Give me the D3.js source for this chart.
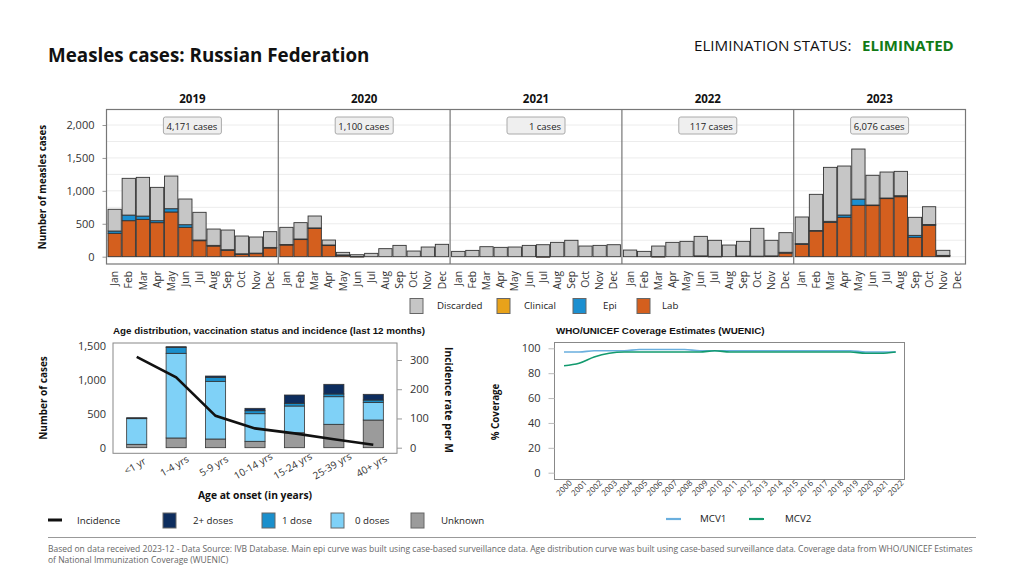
<!DOCTYPE html>
<html>
<head>
<meta charset="utf-8">
<script src="https://cdn.jsdelivr.net/npm/d3@7"></script>
<style>
  html, body { margin: 0; padding: 0; background: #fff; }
  svg { display: block; }
  .pop { font-family: "Open Sans", "Noto Sans", sans-serif; }
  .ari { font-family: "Liberation Sans", Arial, sans-serif; }
</style>
</head>
<body>
<svg id="chart" width="1024" height="576"></svg>
<script>
// ---------------- DATA ----------------
const years = [2019, 2020, 2021, 2022, 2023];
const months = ["Jan","Feb","Mar","Apr","May","Jun","Jul","Aug","Sep","Oct","Nov","Dec"];
// monthly cases per year (Jan..Dec)
const labCases = [
  [355,547,567,517,679,446,243,162,101,41,51,132],
  [178,264,431,173,25,3,0,0,0,0,0,0],
  [0,0,0,0,0,0,1,0,0,0,0,0],
  [0,0,3,0,0,12,5,0,10,8,12,55],
  [188,390,522,598,780,780,886,911,294,477,15,0]
];
const epiCases = [
  [35,85,50,30,50,40,10,10,5,3,3,9],
  [8,5,6,5,2,0,0,0,0,0,0,0],
  [0,0,0,0,0,0,0,0,0,0,0,0],
  [0,0,0,0,0,0,0,0,0,0,0,12],
  [10,8,15,35,95,5,5,15,30,12,5,0]
];
const clinicalCases = [
  [0,0,0,0,0,0,0,0,0,0,0,0],
  [0,0,0,0,0,0,0,0,0,0,0,0],
  [0,0,0,0,0,0,0,0,0,0,0,0],
  [0,0,0,0,0,0,0,0,0,0,0,0],
  [0,0,0,0,0,0,0,0,0,0,0,0]
];
const discardedCases = [
  [330,558,588,506,496,390,421,248,299,270,245,239],
  [260,248,181,75,39,27,51,122,172,86,147,188],
  [81,96,152,142,147,172,181,218,249,162,172,182],
  [101,81,159,218,233,297,244,177,223,423,237,298],
  [405,549,820,744,760,451,395,370,274,270,77,0]
];
const caseTicks = [0, 500, 1000, 1500, 2000];

const ageGroups = ["<1 yr","1-4 yrs","5-9 yrs","10-14 yrs","15-24 yrs","25-39 yrs","40+ yrs"];
const ageUnknown = [50,143,128,94,220,344,407];
const ageDose0 = [377,1245,848,406,393,406,260];
const ageDose1 = [8,88,59,44,40,40,34];
const ageDose2plus = [5,9,19,35,122,142,84];
const incidence = [311,241,109,66,49,29,10];
const ageCaseTicks = [0, 500, 1000, 1500];
const incidenceTicks = [0, 100, 200, 300];

const covYears = d3.range(2000, 2023);
const mcv1 = [97,97,98,98,98,99,99,99,99,98,98,98,98,98,98,98,98,98,98,98,97,97,97];
const mcv2 = [86,88,93,96,97,97,97,97,97,97,98,97,97,97,97,97,97,97,97,97,96,96,97];
const covTicks = [0, 20, 40, 60, 80, 100];

// ---------------- STYLE ----------------
const C = {
  lab: "#d45f1e", epi: "#1b8fd0", clinical: "#e8a21a", discarded: "#c6c6c6",
  d2: "#0d2d5e", d1: "#1a8fcc", d0: "#7fd1f7", unk: "#9b9b9b",
  mcv1: "#6aafde", mcv2: "#129a6e", green: "#117a16"
};

const svg = d3.select("#chart");

// ---------------- HEADER ----------------
svg.append("text").attr("class","pop").attr("x",48).attr("y",62)
  .attr("font-size",18.8).attr("font-weight",700).attr("fill","#111")
  .text("Measles cases: Russian Federation");
svg.append("text").attr("class","pop").attr("x",694).attr("y",51)
  .attr("font-size",15.2).attr("fill","#111").text("ELIMINATION STATUS:");
svg.append("text").attr("class","pop").attr("x",862).attr("y",51)
  .attr("font-size",15).attr("font-weight",700).attr("fill",C.green).text("ELIMINATED");

// ---------------- TOP CHART ----------------
const topBox = {x0: 106.5, x1: 965.5, y0: 109.5, y1: 264};
const xYear = d3.scaleBand().domain(years).range([topBox.x0, topBox.x1]).padding(0);
const xMonth = d3.scaleBand().domain(months).range([1.5, xYear.bandwidth() - 1.5]).paddingInner(0.06);
const yCases = d3.scaleLinear().domain([0, 2000]).range([256.7, 125]);

const gTop = svg.append("g");
// gridlines
gTop.selectAll("line.grid").data(d3.range(0, 2250, 250)).join("line")
  .attr("x1", topBox.x0).attr("x2", topBox.x1)
  .attr("y1", d => yCases(d)).attr("y2", d => yCases(d))
  .attr("stroke", "#ececec").attr("stroke-width", 1);

// y axis
const yAxisTop = d3.axisLeft(yCases).tickValues(caseTicks).tickFormat(d3.format(",")).tickSize(4).tickPadding(8);
const gy = gTop.append("g").attr("transform", `translate(${topBox.x0},0)`).call(yAxisTop);
gy.select(".domain").remove();
gy.selectAll(".tick line").attr("stroke", "#999");
gy.selectAll("text").attr("class","pop").attr("font-size", 11).attr("fill", "#333");

svg.append("text").attr("class","pop").attr("transform","translate(46,187) rotate(-90)")
  .attr("text-anchor","middle").attr("font-size",9.8).attr("font-weight",700).attr("fill","#111")
  .text("Number of measles cases");

const keys = ["lab","epi","clinical","discarded"];
years.forEach((yr, i) => {
  const rows = months.map((m, j) => ({
    month: m, lab: labCases[i][j], epi: epiCases[i][j],
    clinical: clinicalCases[i][j], discarded: discardedCases[i][j]
  }));
  const stack = d3.stack().keys(keys)(rows);
  const g = gTop.append("g").attr("transform", `translate(${xYear(yr)},0)`);
  stack.forEach(layer => {
    g.selectAll(null).data(layer.filter(d => d[1] - d[0] > 0)).join("rect")
      .attr("x", d => xMonth(d.data.month))
      .attr("width", xMonth.bandwidth())
      .attr("y", d => yCases(d[1]))
      .attr("height", d => Math.max(0.6, yCases(d[0]) - yCases(d[1])))
      .attr("fill", C[layer.key])
      .attr("stroke", "#333").attr("stroke-width", 0.9);
  });
  // month labels
  g.selectAll("text.m").data(months).join("text")
    .attr("class","pop")
    .attr("transform", m => `translate(${xMonth(m) + xMonth.bandwidth()/2},271) rotate(-90)`)
    .attr("dy","0.35em").attr("text-anchor","end")
    .attr("font-size",10.3).attr("fill","#333").text(m => m);
  // year label
  svg.append("text").attr("class","pop")
    .attr("x", xYear(yr) + xYear.bandwidth()/2).attr("y", 103)
    .attr("text-anchor","middle").attr("font-size",11.5).attr("font-weight",700).attr("fill","#111")
    .text(yr);
  // total box
  const total = d3.sum(labCases[i]) + d3.sum(epiCases[i]) + d3.sum(clinicalCases[i]);
  const cx = xYear(yr) + xYear.bandwidth()/2;
  svg.append("rect").attr("x", cx - 29).attr("y", 117).attr("width", 58).attr("height", 17)
    .attr("rx", 2).attr("fill", "#efefef").attr("stroke", "#aaa").attr("stroke-width", 1);
  svg.append("text").attr("class","pop").attr("x", cx + 25).attr("y", 129.5)
    .attr("text-anchor","end").attr("font-size",9.5).attr("fill","#222")
    .text(d3.format(",")(total) + " cases");
});
// panel dividers + frame
gTop.selectAll("line.div").data(years.slice(1)).join("line")
  .attr("x1", d => xYear(d)).attr("x2", d => xYear(d))
  .attr("y1", topBox.y0).attr("y2", topBox.y1).attr("stroke", "#777").attr("stroke-width", 1.2);
gTop.append("rect").attr("x", topBox.x0).attr("y", topBox.y0)
  .attr("width", topBox.x1 - topBox.x0).attr("height", topBox.y1 - topBox.y0)
  .attr("fill","none").attr("stroke","#777").attr("stroke-width",1.2);

// top legend
const topLegend = [
  {k:"discarded", t:"Discarded", x:410}, {k:"clinical", t:"Clinical", x:497},
  {k:"epi", t:"Epi", x:573}, {k:"lab", t:"Lab", x:637}
];
const gl = svg.append("g");
topLegend.forEach(d => {
  gl.append("rect").attr("x", d.x).attr("y", 298.5).attr("width", 13).attr("height", 15)
    .attr("fill", C[d.k]).attr("stroke", "#666").attr("stroke-width", 1);
  gl.append("text").attr("class","pop").attr("x", d.x + (d.k === "epi" ? 30 : d.k === "lab" ? 25 : 27)).attr("y", 309)
    .attr("font-size", 9.7).attr("fill","#222").text(d.t);
});

// ---------------- BOTTOM LEFT ----------------
const bl = {x0: 113, x1: 397, y0: 343, y1: 453.3};
svg.append("text").attr("class","ari").attr("x", 113).attr("y", 334)
  .attr("font-size", 9.8).attr("font-weight",700).attr("fill","#111")
  .text("Age distribution, vaccination status and incidence (last 12 months)");

const xAge = d3.scaleBand().domain(ageGroups).range([117, 393]).paddingInner(0.49).paddingOuter(0.245);
const yAge = d3.scaleLinear().domain([0, 1500]).range([447.7, 345.7]);
const yInc = d3.scaleLinear().domain([0, 300]).range([447.7, 360]);

const ageRows = ageGroups.map((g, i) => ({
  group: g, unk: ageUnknown[i], d0: ageDose0[i], d1: ageDose1[i], d2: ageDose2plus[i]
}));
const ageStack = d3.stack().keys(["unk","d0","d1","d2"])(ageRows);
const gbl = svg.append("g");
ageStack.forEach(layer => {
  gbl.selectAll(null).data(layer).join("rect")
    .attr("x", d => xAge(d.data.group)).attr("width", xAge.bandwidth())
    .attr("y", d => yAge(d[1])).attr("height", d => yAge(d[0]) - yAge(d[1]))
    .attr("fill", C[layer.key]).attr("stroke", "#333").attr("stroke-width", 0.8);
});
gbl.append("path")
  .datum(incidence.map((v, i) => [xAge(ageGroups[i]) + xAge.bandwidth()/2, yInc(v)]))
  .attr("d", d3.line()).attr("fill","none").attr("stroke","#111").attr("stroke-width",2.6);
gbl.append("rect").attr("x", bl.x0).attr("y", bl.y0).attr("width", bl.x1 - bl.x0).attr("height", bl.y1 - bl.y0)
  .attr("fill","none").attr("stroke","#888").attr("stroke-width",1);

const gyl = gbl.append("g").attr("transform", `translate(${bl.x0},0)`)
  .call(d3.axisLeft(yAge).tickValues(ageCaseTicks).tickFormat(d3.format(",")).tickSize(0).tickPadding(7));
gyl.select(".domain").remove();
gyl.selectAll("text").attr("class","pop").attr("font-size",11).attr("fill","#333");
const gyr = gbl.append("g").attr("transform", `translate(${bl.x1},0)`)
  .call(d3.axisRight(yInc).tickValues(incidenceTicks).tickSize(5).tickPadding(8));
gyr.select(".domain").remove();
gyr.selectAll(".tick line").attr("stroke","#999");
gyr.selectAll("text").attr("class","pop").attr("font-size",11).attr("fill","#333");

gbl.selectAll("text.age").data(ageGroups).join("text").attr("class","pop")
  .attr("transform", d => `translate(${xAge(d) + xAge.bandwidth()/2},469) rotate(-30)`)
  .attr("text-anchor","middle").attr("font-size",10).attr("fill","#333").text(d => d);

svg.append("text").attr("class","pop").attr("x", 255).attr("y", 499)
  .attr("text-anchor","middle").attr("font-size",10.3).attr("font-weight",700).attr("fill","#111")
  .text("Age at onset (in years)");
svg.append("text").attr("class","pop").attr("transform","translate(47,398) rotate(-90)")
  .attr("text-anchor","middle").attr("font-size",10).attr("font-weight",700).attr("fill","#111")
  .text("Number of cases");
svg.append("text").attr("class","pop").attr("transform","translate(445,400) rotate(90)")
  .attr("text-anchor","middle").attr("font-size",10.3).attr("font-weight",700).attr("fill","#111")
  .text("Incidence rate per M");

// bottom-left legend
svg.append("line").attr("x1",48).attr("x2",62).attr("y1",520).attr("y2",520)
  .attr("stroke","#111").attr("stroke-width",3);
svg.append("text").attr("class","pop").attr("x",77).attr("y",523.5).attr("font-size",9.7).attr("fill","#222").text("Incidence");
const blLegend = [
  {k:"d2", t:"2+ doses", x:163, tx:193}, {k:"d1", t:"1 dose", x:262, tx:282},
  {k:"d0", t:"0 doses", x:331, tx:355}, {k:"unk", t:"Unknown", x:411, tx:441}
];
blLegend.forEach(d => {
  svg.append("rect").attr("x", d.x).attr("y", 513).attr("width", 13).attr("height", 15)
    .attr("fill", C[d.k]).attr("stroke","#666").attr("stroke-width",1);
  svg.append("text").attr("class","pop").attr("x", d.tx).attr("y", 523.5)
    .attr("font-size",9.7).attr("fill","#222").text(d.t);
});

// ---------------- BOTTOM RIGHT ----------------
const br = {x0: 554.5, x1: 904.5, y0: 342.5, y1: 479.5};
svg.append("text").attr("class","ari").attr("x", 556).attr("y", 334)
  .attr("font-size", 9.8).attr("font-weight",700).attr("fill","#111")
  .text("WHO/UNICEF Coverage Estimates (WUENIC)");
const xCov = d3.scalePoint().domain(covYears).range([564, 895.7]);
const yCov = d3.scaleLinear().domain([0, 100]).range([472.7, 348.3]);
const gbr = svg.append("g");
gbr.append("rect").attr("x", br.x0).attr("y", br.y0).attr("width", br.x1 - br.x0).attr("height", br.y1 - br.y0)
  .attr("fill","none").attr("stroke","#888").attr("stroke-width",1);
const gyc = gbr.append("g").attr("transform", `translate(${br.x0},0)`)
  .call(d3.axisLeft(yCov).tickValues(covTicks).tickSize(6).tickPadding(8));
gyc.select(".domain").remove();
gyc.selectAll(".tick line").attr("stroke","#bbb");
gyc.selectAll("text").attr("class","pop").attr("font-size",11).attr("fill","#333");
gbr.selectAll("text.yr").data(covYears).join("text").attr("class","pop")
  .attr("transform", d => `translate(${xCov(d) + 2},490) rotate(-45)`)
  .attr("text-anchor","middle").attr("font-size",8).attr("fill","#333").text(d => d);
const covLine = d3.line().x((d, i) => xCov(covYears[i])).y(d => yCov(d)).curve(d3.curveMonotoneX);
gbr.append("path").datum(mcv1).attr("d", covLine).attr("fill","none").attr("stroke",C.mcv1).attr("stroke-width",1.6);
gbr.append("path").datum(mcv2).attr("d", covLine).attr("fill","none").attr("stroke",C.mcv2).attr("stroke-width",1.6);
svg.append("text").attr("class","pop").attr("transform","translate(499,412) rotate(-90)")
  .attr("text-anchor","middle").attr("font-size",9.8).attr("font-weight",700).attr("fill","#111")
  .text("% Coverage");
[{k:"mcv1", t:"MCV1", x:666, tx:700}, {k:"mcv2", t:"MCV2", x:749, tx:785}].forEach(d => {
  svg.append("line").attr("x1", d.x).attr("x2", d.x + 15).attr("y1", 519).attr("y2", 519)
    .attr("stroke", C[d.k]).attr("stroke-width", 2.2);
  svg.append("text").attr("class","pop").attr("x", d.tx).attr("y", 522)
    .attr("font-size",9.8).attr("fill","#222").text(d.t);
});

// ---------------- FOOTER ----------------
svg.append("line").attr("x1",48).attr("x2",976).attr("y1",537.5).attr("y2",537.5)
  .attr("stroke","#999").attr("stroke-width",1);
svg.append("text").attr("class","pop").attr("x",48).attr("y",552).attr("font-size",8.5).attr("fill","#666")
  .text("Based on data received 2023-12 - Data Source: IVB Database. Main epi curve was built using case-based surveillance data.  Age distribution curve was built using case-based surveillance data. Coverage data from WHO/UNICEF Estimates");
svg.append("text").attr("class","pop").attr("x",48).attr("y",563).attr("font-size",8.5).attr("fill","#666")
  .text("of National Immunization Coverage (WUENIC)");
</script>
</body>
</html>
